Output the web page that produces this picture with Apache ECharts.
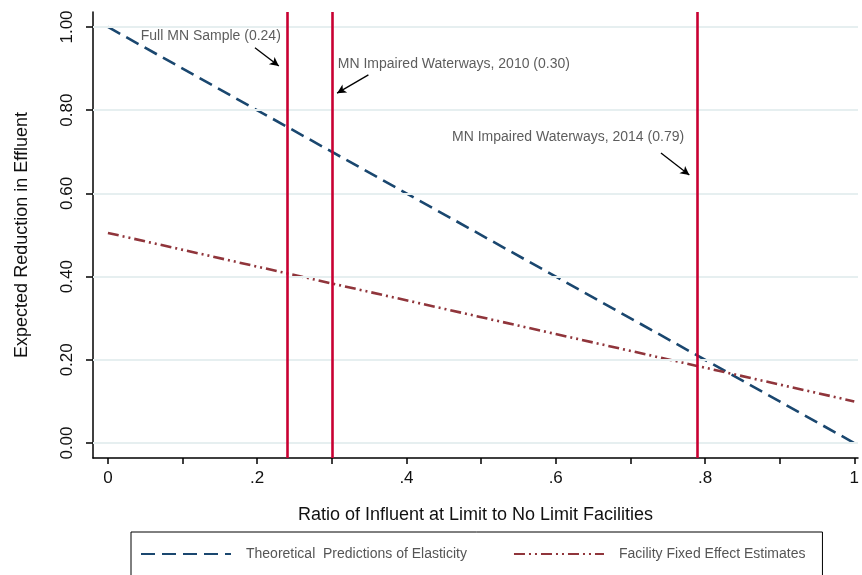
<!DOCTYPE html>
<html>
<head>
<meta charset="utf-8">
<script src="https://cdn.jsdelivr.net/npm/echarts@6/dist/echarts.min.js"></script>
<style>
  html, body { margin: 0; padding: 0; background: #fff; }
  #chart { width: 862px; height: 575px; }
</style>
</head>
<body>
<div id="chart"></div>
<script>
// ratio of influent (x) and expected reduction (y)
var ratioX = [0, 1];
var theoretical = [1.0, 0.0];
var fixedEffect = [0.505, 0.10];

var cutoffs = [0.24, 0.30, 0.79];
var notes = [
    { text: 'Full MN Sample (0.24)', at: [0.044, 0.978], from: [0.197, 0.950], to: [0.229, 0.906] },
    { text: 'MN Impaired Waterways, 2010 (0.30)', at: [0.308, 0.911], from: [0.349, 0.885], to: [0.307, 0.841] },
    { text: 'MN Impaired Waterways, 2014 (0.79)', at: [0.461, 0.736], from: [0.741, 0.697], to: [0.779, 0.644] }
];

var xTicks = [0, 0.1, 0.2, 0.3, 0.4, 0.5, 0.6, 0.7, 0.8, 0.9, 1];
var xLabels = [0, 0.2, 0.4, 0.6, 0.8, 1];
var yTicks = [0, 0.2, 0.4, 0.6, 0.8, 1];

var font = '"Liberation Sans", Arial, sans-serif';

var myChart = echarts.init(document.getElementById('chart'));

var option = {
    animation: false,
    backgroundColor: '#fff',
    textStyle: { fontFamily: font },
    grid: {
        left: 93,
        right: 0,
        top: 12,
        bottom: 117
    },
    legend: {
        left: 131,
        top: 532,
        width: 680,
        padding: [15, 17, 15, 9],
        borderColor: '#000',
        borderWidth: 1,
        itemWidth: 90,
        itemHeight: 14,
        itemGap: 46,
        itemStyle: { opacity: 0 },
        textStyle: {
            fontSize: 14,
            color: '#555',
            fontFamily: font,
            padding: [0, 0, 0, 10]
        },
        data: ['Theoretical  Predictions of Elasticity', 'Facility Fixed Effect Estimates']
    },
    xAxis: {
        type: 'value',
        min: -0.02,
        max: 1.005,
        name: 'Ratio of Influent at Limit to No Limit Facilities',
        nameLocation: 'middle',
        nameGap: 48,
        nameTextStyle: { fontSize: 18, color: '#111', fontFamily: font },
        splitLine: { show: false },
        axisLine: { onZero: false, lineStyle: { color: '#000', width: 1.5 } },
        axisTick: {
            customValues: xTicks,
            length: 6,
            lineStyle: { color: '#000', width: 1.5 }
        },
        axisLabel: {
            customValues: xLabels,
            margin: 12,
            fontSize: 17,
            color: '#111',
            formatter: function (v) {
                if (v === 0) return '0';
                if (v === 1) return '1';
                return String(v).replace(/^0/, '');
            }
        }
    },
    yAxis: {
        type: 'value',
        min: -0.036,
        max: 1.036,
        name: 'Expected Reduction in Effluent',
        nameLocation: 'middle',
        nameGap: 62,
        nameTextStyle: { fontSize: 18, color: '#111', fontFamily: font },
        splitLine: { show: false },
        axisLine: { show: true, onZero: false, lineStyle: { color: '#000', width: 1.5 } },
        axisTick: {
            show: true,
            customValues: yTicks,
            length: 7,
            lineStyle: { color: '#000', width: 1.5 }
        },
        axisLabel: {
            customValues: yTicks,
            rotate: 90,
            margin: 17,
            fontSize: 17,
            color: '#111',
            formatter: function (v) { return v.toFixed(2); }
        }
    },
    series: [
        {
            // horizontal grid lines
            type: 'line',
            data: [],
            silent: true,
            z: 1,
            markLine: {
                silent: true,
                symbol: 'none',
                label: { show: false },
                lineStyle: { color: '#e6eff0', width: 2, type: 'solid' },
                data: yTicks.map(function (v) { return { yAxis: v }; })
            }
        },
        {
            name: 'Theoretical  Predictions of Elasticity',
            type: 'line',
            data: ratioX.map(function (x, i) { return [x, theoretical[i]]; }),
            symbol: 'none',
            z: 3,
            itemStyle: { color: '#1a476f' },
            lineStyle: { color: '#1a476f', width: 2.6, type: [14, 7] }
        },
        {
            name: 'Facility Fixed Effect Estimates',
            type: 'line',
            data: ratioX.map(function (x, i) { return [x, fixedEffect[i]]; }),
            symbol: 'none',
            z: 3,
            itemStyle: { color: '#90353b' },
            lineStyle: { color: '#90353b', width: 2.6, type: [11, 4, 2, 4, 2, 4] }
        },
        {
            // cutoff lines and arrows
            type: 'line',
            data: [],
            silent: true,
            z: 5,
            markLine: {
                silent: true,
                symbol: 'none',
                label: { show: false },
                lineStyle: { color: '#c80032', width: 2.6, type: 'solid' },
                data: cutoffs.map(function (v) { return { xAxis: v }; })
                    .concat(notes.map(function (n) {
                        return [
                            { coord: n.from, symbol: 'none' },
                            { coord: n.to, symbol: 'arrow', symbolSize: [7, 9],
                              lineStyle: { color: '#000', width: 1.3 } }
                        ];
                    }))
            }
        },
        {
            // annotation texts
            type: 'scatter',
            silent: true,
            symbolSize: 0,
            z: 6,
            data: notes.map(function (n) { return [n.at[0], n.at[1], n.text]; }),
            label: {
                show: true,
                position: 'right',
                distance: 0,
                fontSize: 14,
                color: '#333',
                fontFamily: font,
                formatter: function (p) { return p.data[2]; }
            }
        }
    ]
};
myChart.setOption(option);
</script>
</body>
</html>
